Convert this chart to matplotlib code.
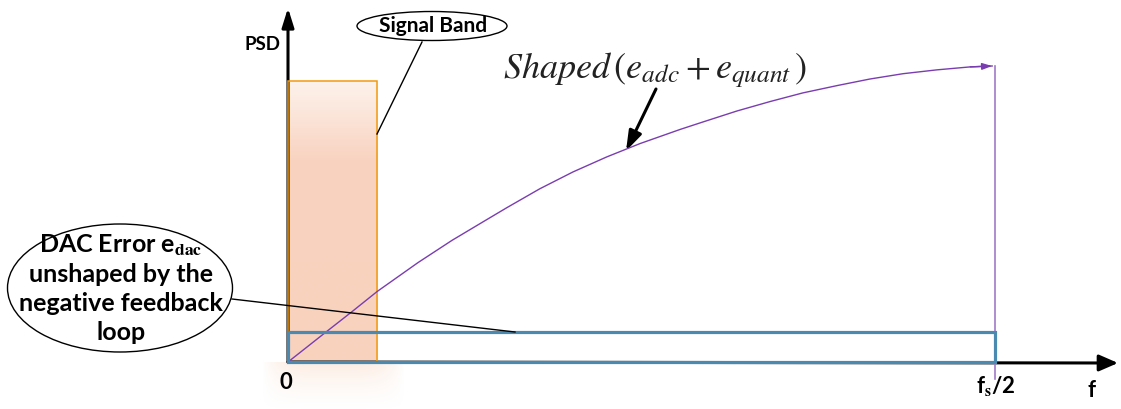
import numpy as np
import matplotlib.pyplot as plt
from matplotlib.patches import Rectangle, Ellipse
from matplotlib.colors import LinearSegmentedColormap

# normalised frequency (1 = fs/2) and PSD (1 = top of shaped curve)
freq = [0.0, 0.052, 0.091, 0.126, 0.184, 0.232, 0.279, 0.310, 0.356, 0.403, 0.451, 0.498,
        0.555, 0.587, 0.635, 0.682, 0.728, 0.777, 0.823, 0.870, 0.918, 0.965, 0.996]
shaped_psd = [0.0, 0.098, 0.171, 0.238, 0.336, 0.411, 0.478, 0.522, 0.585, 0.642, 0.693, 0.738,
              0.786, 0.811, 0.848, 0.880, 0.909, 0.934, 0.956, 0.974, 0.987, 0.997, 1.0]
band_edge = 0.126
band_psd = 0.949
dac_psd = 0.101
nyquist = 1.0

# layout helper: picture pixels -> data coords
X0, XS = 288, 707
Y0, YS = 363, 296
def px(x, y):
    return ((x - X0) / XS, (Y0 - y) / YS)

plt.rcParams['font.family'] = ['Lato', 'DejaVu Sans']
plt.rcParams['mathtext.fontset'] = 'stix'

fig = plt.figure(figsize=(11.21, 4.10), dpi=100)
ax = fig.add_axes([0, 0, 1, 1])
ax.set_xlim(px(0, 0)[0], px(1121, 0)[0])
ax.set_ylim(px(0, 410)[1], px(0, 0)[1])
ax.axis('off')

# axes arrows
ax.annotate('', xy=px(288, 9), xytext=(0, 0),
            arrowprops=dict(arrowstyle='-|>,head_width=0.36,head_length=1.15',
                            lw=2.2, color='black', shrinkA=0, shrinkB=0))
ax.annotate('', xy=px(1118, 364), xytext=(0, 0),
            arrowprops=dict(arrowstyle='-|>,head_width=0.5,head_length=1.15',
                            lw=2.2, color='black', shrinkA=0, shrinkB=0))

# soft glow under the signal band
gx0, gy0 = px(262, 363)
gx1, gy1 = px(405, 412)
gh, gw = 60, 120
yy = np.linspace(0, 1, gh)[:, None]
xx = np.linspace(-1, 1, gw)[None, :]
alpha = np.clip(1 - yy, 0, 1) ** 1.5 * np.clip(1 - np.abs(xx) ** 4, 0, 1) * 0.45
glow = np.zeros((gh, gw, 4))
glow[..., 0] = 0.98
glow[..., 1] = 0.84
glow[..., 2] = 0.76
glow[..., 3] = alpha
ax.imshow(glow, extent=[gx0, gx1, gy1, gy0], origin='upper', aspect='auto', zorder=1)

# signal band with gradient
cmap = LinearSegmentedColormap.from_list('band', [(0, '#f9d2be'), (0.72, '#f9d3c0'), (1, '#fdf2ec')])
grad = np.linspace(0, 1, 200)[:, None]
ax.imshow(grad, cmap=cmap, extent=[0, band_edge, 0, band_psd], origin='lower',
          aspect='auto', zorder=2)
ax.add_patch(Rectangle((0, 0), band_edge, band_psd, fill=False, ec='#f39a10', lw=1.1, zorder=3))

# DAC error floor
ax.add_patch(Rectangle((0, 0), nyquist, dac_psd, fill=False, ec='#4a8ab0', lw=2.3, zorder=5))

# shaped noise curve
ax.plot(freq, shaped_psd, color='#7a3db0', lw=1.0, zorder=4)
ax.annotate('', xy=(freq[-1], shaped_psd[-1]), xytext=(freq[-2], shaped_psd[-2]),
            arrowprops=dict(arrowstyle='-|>,head_width=0.2,head_length=0.6',
                            lw=1.0, color='#7a3db0', shrinkA=0, shrinkB=0), zorder=4)
ax.plot([nyquist, nyquist], [shaped_psd[-1], px(0, 380)[1]], color='#a07cc8', lw=1.2, zorder=4)

# labels
bold = dict(fontweight='bold', color='black')
ax.text(*px(262, 45), 'PSD', fontsize=13.5, ha='center', va='center', **bold)
ax.text(*px(286, 383), '0', fontsize=16, ha='center', va='center', **bold)
ax.text(*px(996, 386), r'f$_\mathbf{s}$/2', fontsize=16, ha='center', va='center', **bold)
ax.text(*px(1091, 391), 'f', fontsize=16, ha='center', va='center', **bold)

ax.add_patch(Ellipse(px(432, 27), 150 / XS, 29 / YS, fill=False, ec='black', lw=1.0))
ax.text(*px(433, 26), 'Signal Band', fontsize=15, ha='center', va='center', **bold)
ax.plot(*zip(px(422, 43), px(377, 135)), color='black', lw=1.0, zorder=6)

ax.text(*px(655, 70), r'$Shaped\,(e_{adc}+e_{quant}\,)$', fontsize=26, ha='center',
        va='center', color='#222222')
ax.annotate('', xy=px(626, 152), xytext=px(656, 90),
            arrowprops=dict(arrowstyle='-|>,head_width=0.4,head_length=1.2',
                            lw=2.2, color='black', shrinkA=0, shrinkB=0))

ax.add_patch(Ellipse(px(120, 289), 225 / XS, 128 / YS, fill=False, ec='black', lw=1.0))
ax.text(*px(121, 288), 'DAC Error e$_\\mathbf{dac}$\nunshaped by the\nnegative feedback\nloop',
        fontsize=18, ha='center', va='center', linespacing=1.3, **bold)
ax.plot(*zip(px(232, 300), px(515, 333)), color='black', lw=1.0, zorder=6)

fig.savefig('out.png', dpi=100)
